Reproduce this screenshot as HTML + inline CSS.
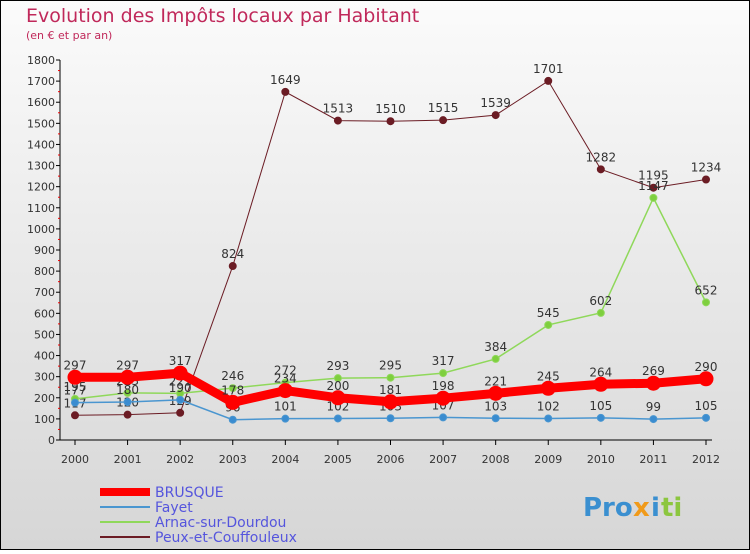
<!DOCTYPE html>
<html><head><meta charset="utf-8"><style>
body{margin:0;}
#c{width:750px;height:550px;position:relative;font-family:"DejaVu Sans","Liberation Sans",sans-serif;}
</style></head><body>
<div id="c">
<svg id="s" width="750" height="550" xmlns="http://www.w3.org/2000/svg">
<defs><linearGradient id="bg" x1="0" y1="0" x2="0" y2="1"><stop offset="0" stop-color="#fbfbfb"/><stop offset="1" stop-color="#d6d6d6"/></linearGradient></defs>
<rect x="0.5" y="0.5" width="749" height="549" fill="url(#bg)" stroke="#000"/>
<text x="26" y="22" font-size="19" fill="#c0285a">Evolution des Impôts locaux par Habitant</text>
<text x="26" y="39" font-size="11" fill="#c0285a">(en € et par an)</text>
<g id="axes"></g><g id="series"></g><g id="legend"></g>
<g font-size="26" font-weight="bold">
<text x="583" y="516" fill="#3a8fd0">Pro</text><text x="633" y="516" fill="#f09a1a">x</text><text x="651" y="516" fill="#3a8fd0">i</text><text x="661" y="516" fill="#8cc63f">ti</text>
</g>
</svg>
</div>
<script>
const years=[2000,2001,2002,2003,2004,2005,2006,2007,2008,2009,2010,2011,2012];
const yTicks=[0,100,200,300,400,500,600,700,800,900,1000,1100,1200,1300,1400,1500,1600,1700,1800];
const brusque=[297,297,317,178,234,200,181,198,221,245,264,269,290];
const fayet=[177,180,190,96,101,102,103,107,103,102,105,99,105];
const arnac=[195,223,221,246,272,293,295,317,384,545,602,1147,652];
const peux=[117,120,129,824,1649,1513,1510,1515,1539,1701,1282,1195,1234];
const NS="http://www.w3.org/2000/svg";
const X=i=>75+i*(706-75)/(years.length-1);
const Y=v=>440-v*(380/1800);
function mk(t,a,p){const e=document.createElementNS(NS,t);for(const k in a)e.setAttribute(k,a[k]);p.appendChild(e);return e;}
const ax=document.getElementById('axes');
const yl=mk('line',{x1:60,y1:Y(1800),x2:60,y2:440,stroke:'#000'},ax);


const xl=mk('line',{x1:60,y1:440,x2:712,y2:440,stroke:'#000'},ax);


yTicks.forEach((v,k)=>{
  mk('line',{x1:56,y1:Y(v),x2:60,y2:Y(v),stroke:'#000'},ax);
  if(k<yTicks.length-1) mk('line',{x1:58,y1:Y(v+50),x2:60,y2:Y(v+50),stroke:'#e00'},ax);
  const t=mk('text',{x:55,y:Y(v)+4,'font-size':11,'text-anchor':'end',fill:'#333'},ax);
  t.textContent=v;
  
  
});
years.forEach((yr,i)=>{
  mk('line',{x1:X(i),y1:440,x2:X(i),y2:445,stroke:'#000'},ax);
  const t=mk('text',{x:X(i),y:463,'font-size':11,'text-anchor':'middle',fill:'#333'},ax);
  t.textContent=yr;
  
  
});
const sg=document.getElementById('series');
function draw(data,color,w,r,fill,name){
  const g=mk('g',{},sg);
  
  
  const pl=mk('polyline',{points:data.map((v,i)=>X(i)+','+Y(v)).join(' '),fill:'none',stroke:color,'stroke-width':w},g);
  
  
  data.forEach((v,i)=>{
    const c=mk('circle',{cx:X(i),cy:Y(v),r:r,fill:fill,stroke:color,'stroke-width':1},g);
    
    
    const t=mk('text',{x:X(i),y:Y(v)-8,'font-size':12,'text-anchor':'middle',fill:'#333'},g);
    t.textContent=v;
    
    
  });
}
draw(peux,'#6b1c24',1,3.5,'#6b1c24','peux');
draw(arnac,'#8fd85a',1.5,3.5,'#7ecf3e','arnac');
draw(fayet,'#4a96d0',1.5,3.5,'#3a8cd0','fayet');
draw(brusque,'#ff0000',9,7,'#ff0000','brusque');
const lg=document.getElementById('legend');
const items=[['BRUSQUE','#ff0000',8],['Fayet','#4a96d0',2],['Arnac-sur-Dourdou','#8fd85a',2],['Peux-et-Couffouleux','#6b1c24',2]];
items.forEach((it,i)=>{
  const y=492+i*15;
  const g=mk('g',{},lg);
  
  
  mk('line',{x1:100,y1:y,x2:150,y2:y,stroke:it[1],'stroke-width':it[2]},g);
  const t=mk('text',{x:155,y:y+5,'font-size':14,fill:'#5555dd'},g);
  t.textContent=it[0];
});
</script>
</body></html>
